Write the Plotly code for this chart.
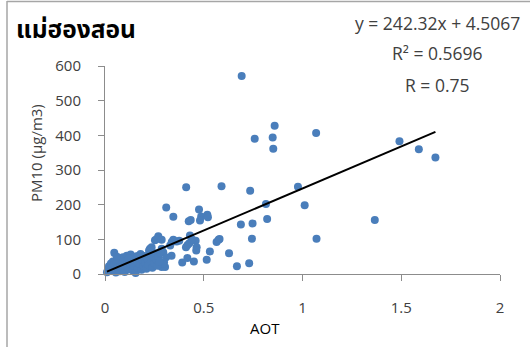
import plotly.graph_objects as go

title_text = "แม่ฮองสอน"
x_title = "AOT"
y_title = "PM10 (µg/m3)"
eq_lines = ["y = 242.32x + 4.5067", "R² = 0.5696", "R = 0.75"]
slope = 242.32
intercept = 4.5067

x_ticks = [0, 0.5, 1, 1.5, 2]
x_tick_labels = ["0", "0.5", "1", "1.5", "2"]
y_ticks = [0, 100, 200, 300, 400, 500, 600]
y_tick_labels = ["0", "100", "200", "300", "400", "500", "600"]

aot = [
    0.692, 0.859, 0.758, 0.849, 0.852, 1.069, 1.491, 1.589, 1.673, 1.366,
    1.071, 0.977, 1.011, 0.815, 0.821, 0.735, 0.747, 0.688, 0.744, 0.730,
    0.668, 0.590, 0.411, 0.628, 0.531, 0.515, 0.450, 0.417, 0.391, 0.310,
    0.346, 0.476, 0.487, 0.481, 0.518, 0.521, 0.424, 0.434, 0.430, 0.565,
    0.575, 0.580, 0.410, 0.427, 0.459, 0.464, 0.462, 0.418, 0.440, 0.346,
    0.363, 0.376, 0.330, 0.337, 0.270, 0.253, 0.262, 0.287, 0.338, 0.228,
    0.223, 0.236, 0.287, 0.295, 0.309, 0.299, 0.292, 0.304, 0.287, 0.292,
    0.047, 0.010, 0.015, 0.020, 0.025, 0.030, 0.035, 0.040, 0.045, 0.050,
    0.055, 0.060, 0.065, 0.070, 0.075, 0.080, 0.085, 0.090, 0.095, 0.100,
    0.105, 0.110, 0.115, 0.120, 0.125, 0.130, 0.135, 0.140, 0.145, 0.150,
    0.155, 0.160, 0.165, 0.170, 0.175, 0.180, 0.185, 0.190, 0.195, 0.200,
    0.205, 0.210, 0.215, 0.220, 0.230, 0.235, 0.240, 0.245, 0.250, 0.255,
    0.260, 0.265, 0.270, 0.275, 0.280, 0.140, 0.120, 0.165, 0.090, 0.060,
]
pm10 = [
    571, 428, 390, 394, 361, 407, 383, 360, 336, 156,
    102, 252, 198, 202, 159, 240, 146, 143, 102, 31,
    22, 253, 250, 60, 65, 41, 36, 46, 33, 192,
    165, 186, 166, 154, 171, 164, 152, 156, 111, 92,
    99, 101, 77, 89, 96, 77, 68, 84, 100, 99,
    94, 96, 82, 53, 109, 97, 101, 99, 92, 73,
    68, 77, 73, 63, 48, 34, 25, 20, 20, 29,
    61, 5, 14, 22, 9, 30, 18, 36, 26, 12,
    4, 32, 20, 42, 8, 27, 15, 48, 35, 6,
    22, 53, 40, 14, 30, 56, 44, 10, 24, 50,
    3, 36, 18, 45, 28, 58, 12, 40, 22, 52,
    32, 15, 44, 26, 55, 38, 18, 48, 30, 60,
    42, 24, 50, 35, 62, 33, 45, 52, 25, 50,
]

W, H = 530, 347
L, R, T, B = 105, 30, 66, 73
PW, PH = W - L - R, H - T - B


def px(x):
    return (x - L) / PW


def py(y):
    return (H - B - y) / PH


FONT = "Open Sans, Noto Sans, sans-serif"
THAI_FONT = "Tahoma, Noto Sans Thai, Loma, Garuda, Norasi, sans-serif"

fig = go.Figure()
fig.add_trace(go.Scatter(
    x=aot, y=pm10, mode="markers",
    marker=dict(color="#4A7EBB", size=8, line=dict(width=0)),
    cliponaxis=False, showlegend=False, hoverinfo="skip",
))
x0, x1 = min(aot), max(aot)
fig.add_trace(go.Scatter(
    x=[x0, x1], y=[slope * x0 + intercept, slope * x1 + intercept],
    mode="lines", line=dict(color="black", width=2),
    cliponaxis=False, showlegend=False, hoverinfo="skip",
))

axis_common = dict(
    showgrid=False, zeroline=False, showline=True, linecolor="#8C8C8C",
    linewidth=1, ticks="outside", tickcolor="#8C8C8C", ticklen=6,
    tickfont=dict(family=FONT, size=15, color="#404040"),
)
fig.update_xaxes(range=[0, 2], tickvals=x_ticks, ticktext=x_tick_labels,
                 ticklabelstandoff=14, **axis_common)
fig.update_yaxes(range=[0, 600], tickvals=y_ticks, ticktext=y_tick_labels,
                 ticklabelstandoff=14, **axis_common)

ann = [
    dict(text="<b>" + title_text + "</b>", x=px(14), y=py(31), xanchor="left",
         yanchor="middle", font=dict(family=THAI_FONT, size=24.5, color="black")),
    dict(text=x_title, x=px(265), y=py(328), xanchor="center", yanchor="middle",
         font=dict(family=FONT, size=15, color="black")),
    dict(text=y_title, x=px(36), y=py(153), xanchor="center", yanchor="middle",
         textangle=-90, font=dict(family=FONT, size=15, color="#404040")),
]
for txt, yy in zip(eq_lines, [23, 53, 85]):
    ann.append(dict(text=txt, x=px(437), y=py(yy), xanchor="center",
                    yanchor="middle",
                    font=dict(family=FONT, size=17.5, color="#404040")))
for a in ann:
    a.update(xref="paper", yref="paper", showarrow=False)

frame = dict(color="#A6A6A6", width=1.5)
fig.update_layout(
    width=W, height=H,
    margin=dict(l=L, r=R, t=T, b=B),
    paper_bgcolor="white", plot_bgcolor="white",
    annotations=ann,
    shapes=[
        dict(type="line", xref="paper", yref="paper", x0=px(7), x1=px(7),
             y0=py(1), y1=py(347), line=frame, layer="above"),
        dict(type="line", xref="paper", yref="paper", x0=px(7), x1=px(530),
             y0=py(1.5), y1=py(1.5), line=frame, layer="above"),
    ],
)
fig.write_html("out.html", config={"displayModeBar": False},
               post_script="document.body.style.margin='0';")
